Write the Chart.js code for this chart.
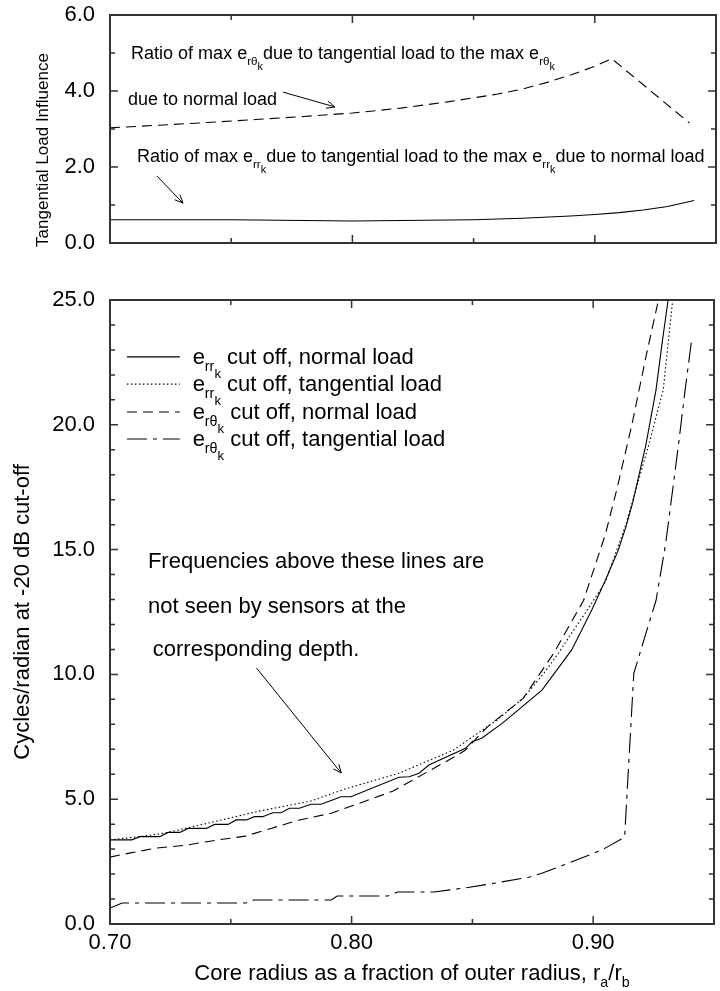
<!DOCTYPE html>
<html>
<head>
<meta charset="utf-8">
<title>Tangential load influence and -20 dB cut-off</title>
<script src="https://cdn.jsdelivr.net/npm/chart.js@4.4.1/dist/chart.umd.min.js"></script>
<style>
  html, body { margin: 0; padding: 0; background: #fff; }
  #page { position: relative; width: 720px; height: 991px; }
  #topWrap { position: absolute; left: 0; top: 0; width: 720px; height: 260px; }
  #bottomWrap { position: absolute; left: 0; top: 260px; width: 720px; height: 731px; }
</style>
</head>
<body>
<div id="page">
  <div id="topWrap"><canvas id="ratioChart"></canvas></div>
  <div id="bottomWrap"><canvas id="cutoffChart"></canvas></div>
</div>
<script>
const FONT = "'Liberation Sans', Arial, Helvetica, sans-serif";

// ---- top panel: ratio of max strain, tangential vs normal load ----
const ratioRthX = [0.70, 0.72, 0.74, 0.76, 0.78, 0.80, 0.82, 0.84, 0.86, 0.87, 0.88, 0.89, 0.90, 0.907, 0.939];
const ratioRthY = [3.03, 3.10, 3.17, 3.25, 3.33, 3.42, 3.55, 3.72, 3.92, 4.05, 4.22, 4.42, 4.65, 4.85, 3.16];
const ratioRrX = [0.70, 0.75, 0.80, 0.85, 0.87, 0.89, 0.90, 0.91, 0.92, 0.93, 0.941];
const ratioRrY = [0.61, 0.61, 0.58, 0.61, 0.65, 0.71, 0.75, 0.80, 0.87, 0.96, 1.12];

// ---- bottom panel: cycles/radian at -20 dB cut-off ----
const errNormalX = [0.70, 0.709, 0.7124, 0.7206, 0.7241, 0.7289, 0.7323, 0.7399, 0.7433, 0.7488, 0.7523,
  0.7564, 0.7598, 0.7632, 0.7674, 0.7708, 0.7743, 0.7784, 0.7832, 0.7873, 0.7921, 0.7956, 0.7997,
  0.8196, 0.8238, 0.8279, 0.832, 0.8471, 0.8499, 0.854, 0.8623, 0.8788, 0.8911, 0.8994, 0.905,
  0.9104, 0.9135, 0.9164, 0.9218, 0.926, 0.9287, 0.931];
const errNormalY = [3.37, 3.37, 3.50, 3.50, 3.67, 3.67, 3.83, 3.83, 3.99, 3.99, 4.17,
  4.17, 4.30, 4.30, 4.46, 4.46, 4.64, 4.64, 4.80, 4.80, 4.97, 5.10, 5.10,
  5.88, 5.90, 6.04, 6.37, 7.04, 7.30, 7.45, 8.04, 9.37, 10.98, 12.58, 13.76,
  14.98, 15.9, 16.9, 19.2, 21.4, 23.4, 25.0];

const errTangX = [0.70, 0.712, 0.722, 0.737, 0.7616, 0.783, 0.797, 0.8196, 0.842, 0.860, 0.871,
  0.880, 0.886, 0.890, 0.897, 0.905, 0.9135, 0.923, 0.929, 0.9329];
const errTangY = [3.37, 3.50, 3.63, 3.96, 4.52, 4.92, 5.40, 6.04, 6.96, 8.16, 9.04,
  10.1, 10.9, 11.5, 12.5, 13.7, 16.0, 19.2, 21.4, 25.0];

const erthNormalX = [0.70, 0.708, 0.719, 0.7316, 0.744, 0.756, 0.767, 0.778, 0.7916, 0.805, 0.817,
  0.8437, 0.847, 0.856, 0.871, 0.8836, 0.896, 0.905, 0.910, 0.916, 0.922, 0.927];
const erthNormalY = [2.68, 2.84, 3.04, 3.16, 3.36, 3.52, 3.84, 4.16, 4.44, 4.90, 5.32,
  6.76, 6.96, 7.88, 9.04, 10.84, 12.96, 15.6, 17.5, 20.0, 22.8, 25.0];

const erthTangX = [0.70, 0.705, 0.756, 0.7596, 0.7916, 0.794, 0.815, 0.819, 0.834, 0.8466, 0.857,
  0.8737, 0.879, 0.8984, 0.905, 0.913, 0.9168, 0.9218, 0.926, 0.930, 0.9353, 0.938, 0.9406];
const erthTangY = [0.64, 0.84, 0.84, 0.96, 0.96, 1.12, 1.12, 1.28, 1.28, 1.44, 1.60,
  1.88, 2.04, 2.76, 3.04, 3.48, 10.04, 11.64, 12.96, 15.24, 19.2, 21.36, 23.3];

const xTickLabels = ["0.70", "0.80", "0.90"];

const pts = (xs, ys) => xs.map((x, i) => ({ x, y: ys[i] }));
const isMultiple = (v, step) => Math.abs(v / step - Math.round(v / step)) < 1e-6;

Chart.defaults.font.family = FONT;
Chart.defaults.color = "#000";

// text with subscripts: parts = [[text, level], ...], level 0 normal, 1 sub, 2 sub-sub
const LEVELS = [{ s: 1, dy: 0 }, { s: 0.65, dy: 0.33 }, { s: 0.6, dy: 0.62 }];
function drawRich(ctx, x, y, parts, size, align) {
  let w = 0;
  parts.forEach(([t, l]) => {
    ctx.font = `${size * LEVELS[l].s}px ${FONT}`;
    w += ctx.measureText(t).width;
  });
  let cx = align === "center" ? x - w / 2 : x;
  ctx.textAlign = "left";
  ctx.textBaseline = "alphabetic";
  parts.forEach(([t, l]) => {
    ctx.font = `${size * LEVELS[l].s}px ${FONT}`;
    ctx.fillText(t, cx, y + size * LEVELS[l].dy);
    cx += ctx.measureText(t).width;
  });
}

function drawArrow(ctx, x0, y0, x1, y1) {
  const ang = Math.atan2(y1 - y0, x1 - x0);
  const head = 9, spread = 0.42;
  ctx.beginPath();
  ctx.moveTo(x0, y0);
  ctx.lineTo(x1, y1);
  ctx.moveTo(x1 - head * Math.cos(ang - spread), y1 - head * Math.sin(ang - spread));
  ctx.lineTo(x1, y1);
  ctx.lineTo(x1 - head * Math.cos(ang + spread), y1 - head * Math.sin(ang + spread));
  ctx.stroke();
}

// frame with inward ticks on all four sides
const frameTicks = {
  id: "frameTicks",
  afterDatasetsDraw(chart, args, opts) {
    const { ctx, chartArea: a, scales: { x, y } } = chart;
    ctx.save();
    ctx.strokeStyle = "#333";
    ctx.lineWidth = 1.5;
    ctx.beginPath();
    x.ticks.forEach((t) => {
      const px = x.getPixelForValue(t.value);
      const len = isMultiple(t.value, opts.xMajor) ? 8 : 5;
      ctx.moveTo(px, a.bottom); ctx.lineTo(px, a.bottom - len);
      ctx.moveTo(px, a.top); ctx.lineTo(px, a.top + len);
    });
    y.ticks.forEach((t) => {
      const py = y.getPixelForValue(t.value);
      const len = isMultiple(t.value, opts.yMajor) ? 8 : 5;
      ctx.moveTo(a.left, py); ctx.lineTo(a.left + len, py);
      ctx.moveTo(a.right, py); ctx.lineTo(a.right - len, py);
    });
    ctx.stroke();
    ctx.lineWidth = 2;
    ctx.strokeRect(a.left, a.top, a.right - a.left, a.bottom - a.top);
    ctx.restore();
  },
};

// annotations, arrows, hand-made legend and the axis titles
const notes = {
  id: "notes",
  afterDraw(chart, args, opts) {
    const { ctx, chartArea: a, scales: { x, y } } = chart;
    ctx.save();
    ctx.fillStyle = "#000";
    ctx.strokeStyle = "#000";
    ctx.lineWidth = 1;
    (opts.texts || []).forEach((t) => {
      drawRich(ctx, x.getPixelForValue(t.at[0]), y.getPixelForValue(t.at[1]), t.parts, t.size, "left");
    });
    (opts.arrows || []).forEach(([p, q]) => {
      drawArrow(ctx, x.getPixelForValue(p[0]), y.getPixelForValue(p[1]),
        x.getPixelForValue(q[0]), y.getPixelForValue(q[1]));
    });
    (opts.legend || []).forEach((e) => {
      const py = y.getPixelForValue(e.y);
      ctx.setLineDash(e.dash);
      ctx.lineWidth = 1.1;
      ctx.beginPath();
      ctx.moveTo(x.getPixelForValue(e.x0), py);
      ctx.lineTo(x.getPixelForValue(e.x1), py);
      ctx.stroke();
      ctx.setLineDash([]);
      drawRich(ctx, x.getPixelForValue(e.tx), py + 7, e.parts, 22, "left");
    });
    if (opts.yTitle) {
      const t = opts.yTitle;
      ctx.save();
      ctx.translate(a.left - t.dx, a.bottom - t.dy);
      ctx.rotate(-Math.PI / 2);
      ctx.font = `${t.size}px ${FONT}`;
      ctx.textAlign = "center";
      ctx.textBaseline = "middle";
      ctx.fillText(t.text, 0, 0);
      ctx.restore();
    }
    if (opts.xTitle) {
      drawRich(ctx, (a.left + a.right) / 2, a.bottom + 56, opts.xTitle, 22, "center");
    }
    ctx.restore();
  },
};

function lineSet(data, dash) {
  return {
    data, borderColor: "#000", borderWidth: 1.1, borderDash: dash,
    pointRadius: 0, tension: 0, fill: false,
  };
}

function xScale(showLabels, height) {
  return {
    type: "linear", min: 0.70, max: 0.95,
    grid: { display: false, drawTicks: false },
    border: { display: false },
    afterFit(scale) { scale.height = height; },
    ticks: {
      display: showLabels, stepSize: 0.05, autoSkip: false, maxRotation: 0, padding: 6,
      font: { size: 22 },
      callback(v) {
        const label = v.toFixed(2);
        return isMultiple(v, 0.1) && xTickLabels.includes(label) ? label : "";
      },
    },
  };
}

function yScale(max, major, title) {
  return {
    type: "linear", min: 0, max,
    grid: { display: false, drawTicks: false },
    border: { display: false },
    afterFit(scale) {
      scale.width = 110;
      // keep the plot area where the layout padding puts it
      scale.paddingTop = 0;
      scale.paddingBottom = 0;
    },
    ticks: {
      stepSize: 1, autoSkip: false, padding: 15, font: { size: 22 },
      callback: (v) => (isMultiple(v, major) ? v.toFixed(1) : ""),
    },
    title,
  };
}

new Chart(document.getElementById("ratioChart"), {
  type: "line",
  data: {
    datasets: [
      lineSet(pts(ratioRthX, ratioRthY), [10, 6]),
      lineSet(pts(ratioRrX, ratioRrY), []),
    ],
  },
  options: {
    responsive: true, maintainAspectRatio: false, animation: false,
    layout: { padding: { top: 15, right: 4, left: 0, bottom: 0 } },
    scales: {
      x: xScale(false, 17),
      y: yScale(6, 2, { display: false }),
    },
    plugins: {
      legend: { display: false },
      tooltip: { enabled: false },
      frameTicks: { xMajor: 0.1, yMajor: 2 },
      notes: {
        yTitle: { text: "Tangential Load Influence", size: 17, dx: 67, dy: 93 },
        texts: [
          { at: [0.7087, 4.84], size: 18, parts: [["Ratio of max e", 0], ["rθ", 1], ["k", 2],
            ["due to tangential load to the max e", 0], ["rθ", 1], ["k", 2]] },
          { at: [0.7074, 3.63], size: 18, parts: [["due to normal load", 0]] },
          { at: [0.7111, 2.13], size: 18, parts: [["Ratio of max e", 0], ["rr", 1], ["k", 2],
            ["due to tangential load to the max e", 0], ["rr", 1], ["k", 2], ["due to normal load", 0]] },
        ],
        arrows: [
          [[0.7714, 3.97], [0.7928, 3.58]],
          [[0.7194, 1.76], [0.7301, 1.05]],
        ],
      },
    },
  },
  plugins: [frameTicks, notes],
});

new Chart(document.getElementById("cutoffChart"), {
  type: "line",
  data: {
    datasets: [
      lineSet(pts(errNormalX, errNormalY), []),
      lineSet(pts(errTangX, errTangY), [1.5, 2.5]),
      lineSet(pts(erthNormalX, erthNormalY), [10, 6]),
      lineSet(pts(erthTangX, erthTangY), [20, 6, 4, 6]),
    ],
  },
  options: {
    responsive: true, maintainAspectRatio: false, animation: false,
    layout: { padding: { top: 40, right: 4, left: 0, bottom: 0 } },
    scales: {
      x: xScale(true, 67),
      y: yScale(25, 5, {
        display: true, text: "Cycles/radian at -20 dB cut-off",
        font: { size: 22 }, padding: { top: 10, bottom: 0 },
      }),
    },
    plugins: {
      legend: { display: false },
      tooltip: { enabled: false },
      frameTicks: { xMajor: 0.1, yMajor: 5 },
      notes: {
        texts: [
          { at: [0.7157, 14.26], size: 22, parts: [["Frequencies above these lines are", 0]] },
          { at: [0.7157, 12.46], size: 22, parts: [["not seen by sensors at the", 0]] },
          { at: [0.7177, 10.74], size: 22, parts: [["corresponding depth.", 0]] },
        ],
        arrows: [[[0.7606, 10.26], [0.7957, 6.05]]],
        legend: [
          { y: 22.72, x0: 0.707, x1: 0.7289, tx: 0.7342, dash: [],
            parts: [["e", 0], ["rr", 1], ["k", 2], [" cut off, normal load", 0]] },
          { y: 21.63, x0: 0.707, x1: 0.7289, tx: 0.7342, dash: [1.5, 2.5],
            parts: [["e", 0], ["rr", 1], ["k", 2], [" cut off, tangential load", 0]] },
          { y: 20.51, x0: 0.707, x1: 0.7289, tx: 0.7342, dash: [10, 6],
            parts: [["e", 0], ["rθ", 1], ["k", 2], [" cut off, normal load", 0]] },
          { y: 19.43, x0: 0.707, x1: 0.7289, tx: 0.7342, dash: [20, 6, 4, 6],
            parts: [["e", 0], ["rθ", 1], ["k", 2], [" cut off, tangential load", 0]] },
        ],
        xTitle: [["Core radius as a fraction of outer radius, r", 0], ["a", 1], ["/r", 0], ["b", 1]],
      },
    },
  },
  plugins: [frameTicks, notes],
});
</script>
</body>
</html>
